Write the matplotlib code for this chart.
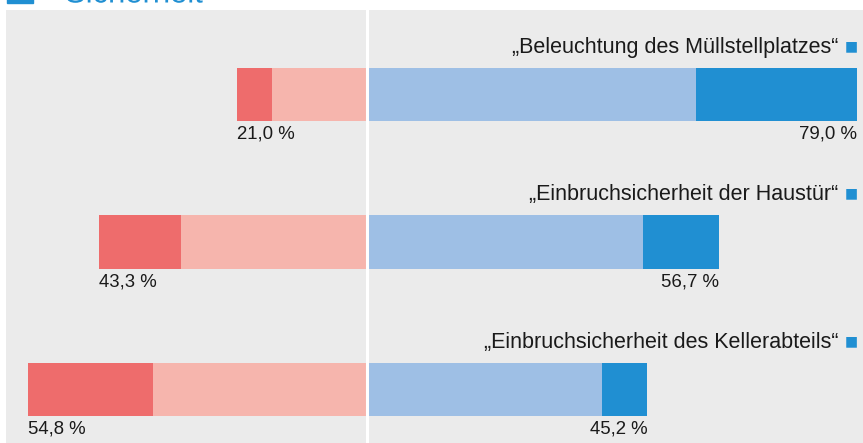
import matplotlib.pyplot as plt
from matplotlib.patches import Rectangle, PathPatch
from matplotlib.textpath import TextPath
from matplotlib.font_manager import FontProperties
from matplotlib.transforms import blended_transform_factory, Affine2D

# Antworten je Kategorie (Anteile in %)
categories = ["„Beleuchtung des Müllstellplatzes“",
              "„Einbruchsicherheit der Haustür“",
              "„Einbruchsicherheit des Kellerabteils“"]
neg_strong = [5.7, 13.3, 20.2]
neg_weak = [15.3, 30.0, 34.6]
pos_weak = [53.1, 44.5, 37.9]
pos_strong = [25.9, 12.2, 7.3]
neg_labels = ["21,0 %", "43,3 %", "54,8 %"]
pos_labels = ["79,0 %", "56,7 %", "45,2 %"]

c_neg_strong = "#ee6c6c"
c_neg_weak = "#f6b5ad"
c_pos_weak = "#9ebfe5"
c_pos_strong = "#208fd2"
bg = "#ebebeb"

plt.rcParams['font.family'] = ['Liberation Sans', 'DejaVu Sans']

fig = plt.figure(figsize=(8.63, 4.43), dpi=100)
W, H = 863, 443
ax = fig.add_axes([6 / W, 0, (W - 6) / W, (H - 10) / H])
ax.set_facecolor(bg)
for s in ax.spines.values():
    s.set_visible(False)
ax.set_xticks([])
ax.set_yticks([])

ax.set_xlim(-58.3, 80.0)
ax.set_ylim(2.363, -0.573)

rows = range(len(categories))
h = 0.36
for i in rows:
    ax.barh(i, -neg_weak[i], height=h, color=c_neg_weak)
    ax.barh(i, -neg_strong[i], left=-neg_weak[i], height=h, color=c_neg_strong)
    ax.barh(i, pos_weak[i], height=h, color=c_pos_weak)
    ax.barh(i, pos_strong[i], left=pos_weak[i], height=h, color=c_pos_strong)

    neg_total = neg_strong[i] + neg_weak[i]
    pos_total = pos_strong[i] + pos_weak[i]
    ax.text(-neg_total, i + 0.27, neg_labels[i], ha='left', va='center',
            fontsize=13.4, color='#1a1a1a')
    ax.text(pos_total, i + 0.27, pos_labels[i], ha='right', va='center',
            fontsize=13.4, color='#1a1a1a')

trans = blended_transform_factory(ax.transAxes, ax.transData)
for i, cat in enumerate(categories):
    ax.text(0.971, i - 0.32, cat, transform=trans, ha='right', va='center',
            fontsize=15.5, color='#1a1a1a')
    ax.text(0.9866, i - 0.33, "■", transform=trans, ha='center', va='center',
            fontsize=10, color=c_pos_strong, family='DejaVu Sans')

ax.axvline(0, color='white', linewidth=2.2, zorder=5)

# Überschrift (oben abgeschnitten) als Pfad, damit der Anschnitt stimmt
fig.patches.append(Rectangle((7 / W, 1 - 2.5 / H), 26 / W, 20 / H,
                             transform=fig.transFigure, color=c_pos_strong))
title_path = TextPath((0, 0), "Sicherheit", size=31,
                      prop=FontProperties(family='Liberation Sans'))
fig.add_artist(PathPatch(title_path, facecolor=c_pos_strong, edgecolor='none',
                         transform=Affine2D().translate(65, H - 2.5)))

fig.savefig("out.png", dpi=100, facecolor='white')
